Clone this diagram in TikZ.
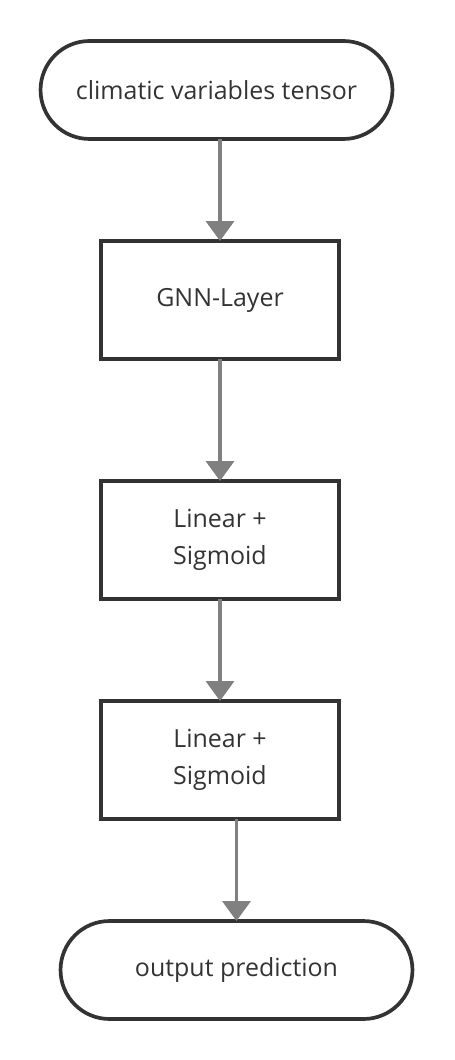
\documentclass[tikz,border=0pt]{standalone}
\usepackage{fontspec}
\setmainfont{Open Sans}
\usetikzlibrary{arrows.meta}
\definecolor{edgegray}{HTML}{333333}
\definecolor{flowgray}{HTML}{808080}

\tikzset{
  pill/.style={draw=edgegray, line width=2.1pt, rounded corners=0.98cm, minimum width=7.04cm, minimum height=1.96cm, text=edgegray, outer sep=0pt, font=\fontsize{14.2}{21}\selectfont},
  layer/.style={draw=edgegray, line width=2.1pt, minimum width=4.76cm, minimum height=2.36cm, align=center, text=edgegray, outer sep=0pt, font=\fontsize{14.2}{21}\selectfont},
  flow/.style={draw=flowgray, line width=2.1pt, -{Triangle[width=0.56cm,length=0.4cm]}}
}

\begin{document}
\begin{tikzpicture}[x=0.02cm, y=-0.02cm]
        \useasboundingbox (0,0) rectangle (454,1060);

        \node[pill] (input) at (216.5,90) {climatic variables tensor};
        \node[layer] (gnn) at (220,300) {GNN-Layer};
        \node[layer] (lin1) at (220,540) {Linear +\\Sigmoid};
        \node[layer] (lin2) at (220,760) {Linear +\\Sigmoid};
        \node[pill] (output) at (236.5,970) {output prediction};

        \draw[flow] (input.south -| gnn.north) -- (gnn.north);
        \draw[flow] (gnn.south) -- (lin1.north);
        \draw[flow] (lin1.south) -- (lin2.north);
        \draw[flow] (lin2.south -| output.north) -- (output.north);
    \end{tikzpicture}
\end{document}
